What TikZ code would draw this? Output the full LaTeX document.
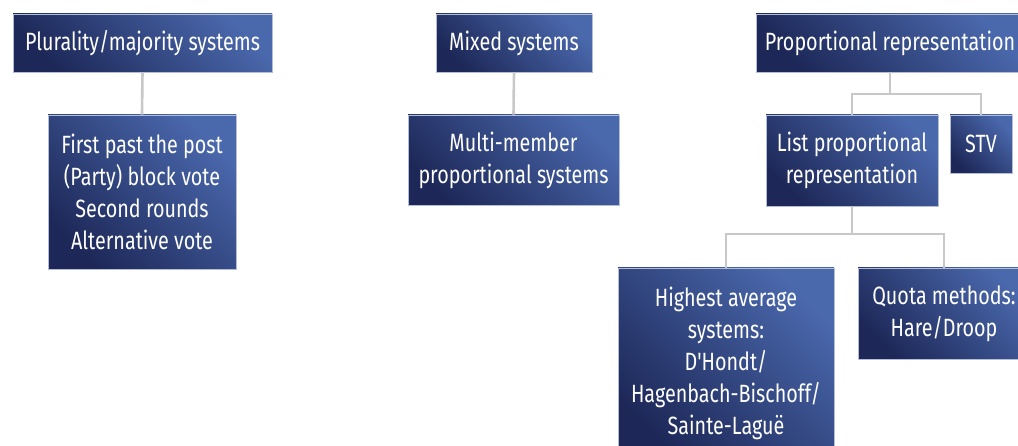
\documentclass[tikz,border=0pt]{standalone}
\usepackage{fontspec}
\setmainfont[FakeStretch=0.79,Ligatures=TeXOff]{Fira Sans}
\definecolor{boxlight}{HTML}{4A68AC}
\definecolor{boxmid}{HTML}{2D3F7A}
\definecolor{boxdark}{HTML}{1D2858}
\definecolor{boxedge}{HTML}{B4BDD6}
\definecolor{linegrey}{HTML}{C8C8C8}
\begin{document}
\begin{tikzpicture}[x=1pt,y=-1pt,
  box/.style={rectangle, inner sep=0pt, draw=boxedge, line width=0.7pt,
    top color=boxlight, middle color=boxmid, bottom color=boxdark, shading angle=-45,
    text=white, align=center, font=\fontsize{25}{32}\selectfont},
  link/.style={draw=linegrey, line width=2.6pt}]
\useasboundingbox (0,0) rectangle (1018,446);
\clip (0,0) rectangle (1018,446);
% top row
\node[box, minimum width=259pt, minimum height=58pt] (plur) at (142.5,43) {Plurality/majority systems};
\node[box, minimum width=156pt, minimum height=58pt] (mixed) at (514,43) {Mixed systems};
\node[box, minimum width=268pt, minimum height=58pt] (pr) at (890,43) {Proportional representation};
% second row
\node[box, minimum width=188pt, minimum height=154pt] (fpp) at (142,192) {First past the post\\(Party) block vote\\Second rounds\\Alternative vote};
\node[box, minimum width=211pt, minimum height=90pt] (mmp) at (513.5,160) {Multi-member\\proportional systems};
\node[box, minimum width=172pt, minimum height=91pt] (list) at (852,160.5) {List proportional\\representation};
\node[box, minimum width=62pt, minimum height=58pt] (stv) at (981,144) {STV};
% third row
\node[box, minimum width=216pt, minimum height=190pt] (high) at (726,363) {Highest average\\systems:\\D'Hondt/\\Hagenbach-Bischoff/\\Sainte-Laguë};
\node[box, minimum width=172pt, minimum height=91pt] (quota) at (944,313.5) {Quota methods:\\Hare/Droop};
% connectors
\coordinate (prj) at (890,94);
\coordinate (lj) at (852,234);
\draw[link] (plur.south) -- (fpp.north);
\draw[link] (mixed.south) -- (mmp.north);
\draw[link] (pr.south) -- (prj);
\draw[link] (list.north) |- (prj) -| (stv.north);
\draw[link] (list.south) -- (lj);
\draw[link] (high.north) |- (lj) -| (quota.north);
\end{tikzpicture}
\end{document}
